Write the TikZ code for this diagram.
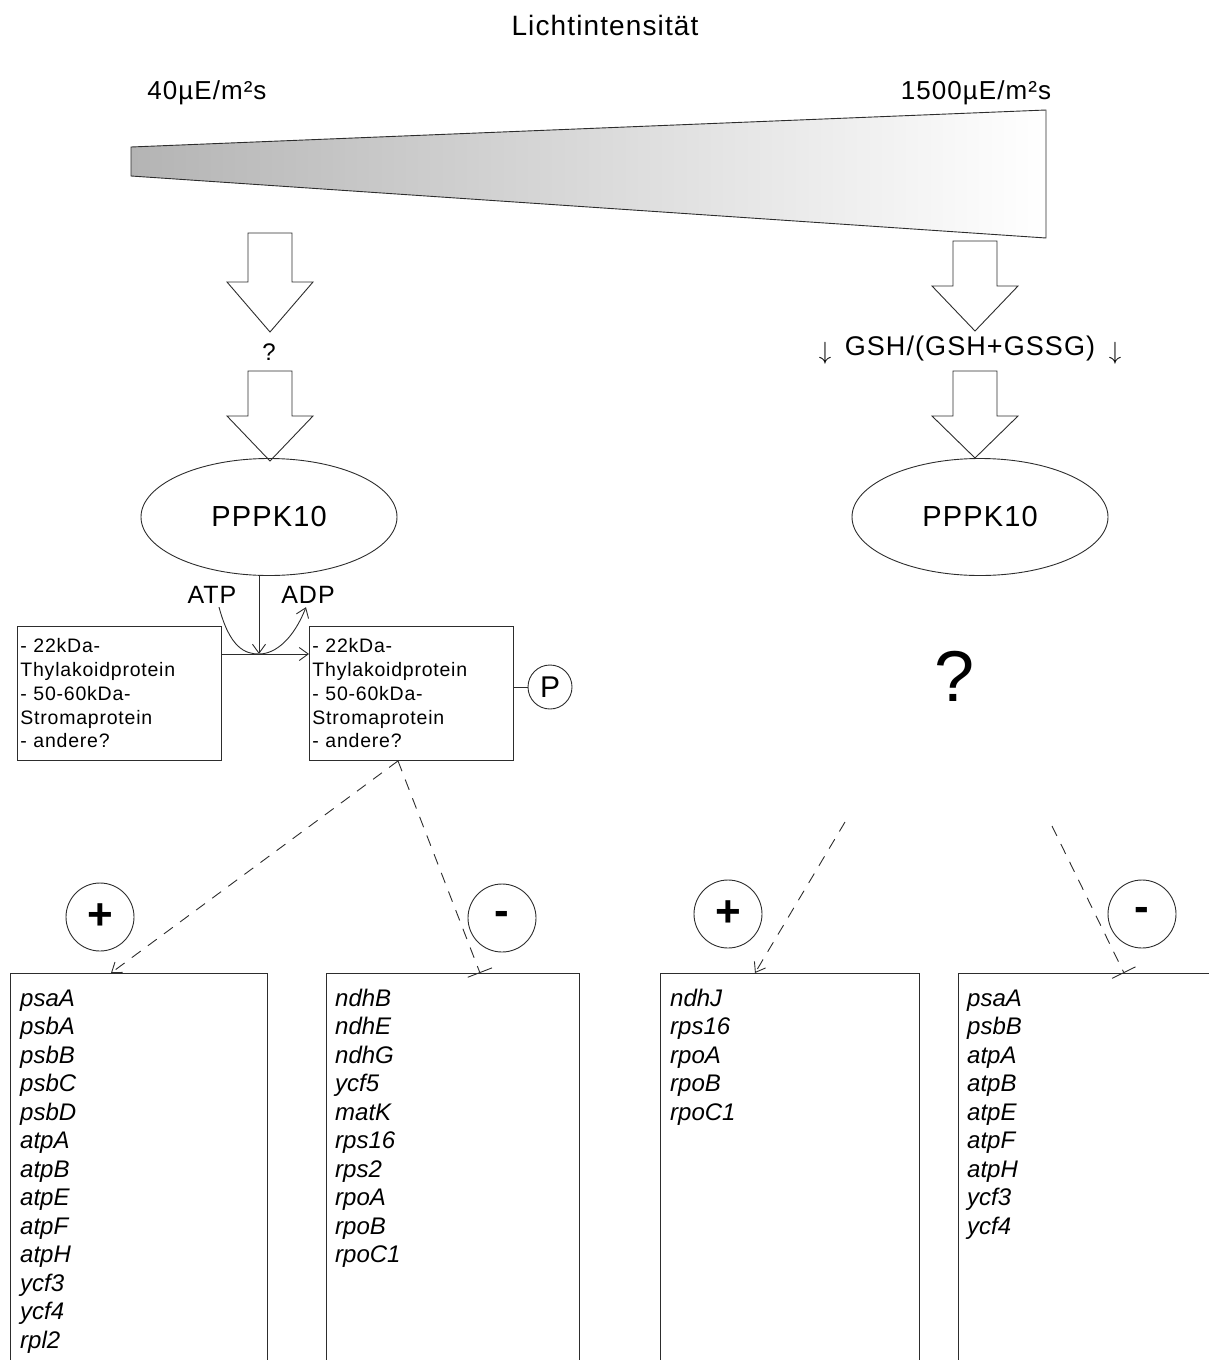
\documentclass[tikz,border=0pt]{standalone}
\usepackage{fontspec}
\setmainfont[LetterSpace=4]{Liberation Sans}
\newfontfamily\genefont{Liberation Sans}
\usepackage{tikz}
\usetikzlibrary{arrows.meta,positioning,shapes.geometric,calc}
\definecolor{wedgegray}{RGB}{180,180,180}
\definecolor{linegray}{RGB}{45,45,45}

\tikzset{
  conn/.style={draw=linegray, line width=0.9pt},
  barb/.style={-{Straight Barb[length=9pt,width=13pt]}},
  regline/.style={conn, dash pattern=on 11pt off 9pt},
  bigarrow/.style={conn, fill=white},
  kinase/.style={ellipse, conn, minimum width=256pt, minimum height=117pt,
    font=\fontsize{29}{34}\selectfont},
  protbox/.style={conn, anchor=north west, align=left, inner xsep=3pt,
    inner ysep=8pt, text width=198pt, minimum height=134pt,
    font=\fontsize{19.5}{23.75}\selectfont},
  genebox/.style={conn, anchor=north west, minimum height=450pt, inner sep=0pt},
  gene/.style={anchor=base west, inner sep=0pt,
    font=\genefont\itshape\fontsize{24}{28}\selectfont},
  effect/.style={circle, conn, minimum size=68pt, inner sep=0pt,
    font=\bfseries\fontsize{44}{44}\selectfont},
  label/.style={anchor=base, inner sep=0pt},
}

\begin{document}
\begin{tikzpicture}[x=1pt,y=-1pt]
    \useasboundingbox (0,0) rectangle (1209,1360);
    \clip (0,0) rectangle (1209,1360);
    % light intensity wedge
    \node[label, font=\fontsize{28}{32}\selectfont] (title) at (605,35) {Lichtintensität};
    \node[label, font=\fontsize{26}{30}\selectfont] (lowI) at (207,99) {40µE/m²s};
    \node[label, font=\fontsize{26}{30}\selectfont] (highI) at (976,99) {1500µE/m²s};
    \shade[left color=wedgegray, right color=white, draw=linegray, line width=0.9pt]
      (131,147) -- (1046,110) -- (1046,238) -- (131,176) -- cycle;
    % block arrows
    \foreach \x/\ya/\yb/\yc in {270/233/282/332, 270/371/416/461, 975/241/286/331, 975/371/416/458} {
      \draw[bigarrow] (\x-22,\ya) -- (\x+22,\ya) -- (\x+22,\yb) -- (\x+43,\yb)
        -- (\x,\yc) -- (\x-43,\yb) -- (\x-22,\yb) -- cycle;
    }
    \node[font=\fontsize{24}{24}\selectfont] (qL) at (269,352) {?};
    \node[label, font=\fontsize{27}{30}\selectfont] (gsh) at (970,355) {GSH/(GSH+GSSG)};
    \node[font=\fontsize{30}{30}\selectfont] (dnL) at (825,353) {$\downarrow$};
    \node[font=\fontsize{30}{30}\selectfont] (dnR) at (1115,353) {$\downarrow$};
    % kinase
    \node[kinase] (kinL) at (269,517) {PPPK10};
    \node[kinase] (kinR) at (980,517) {PPPK10};
    \node[font=\fontsize{72}{72}\selectfont] (qR) at (955,676) {?};
    % phosphorylation
    \node[protbox] (protA) at (17,626)
      {- 22kDa-\\Thylakoidprotein\\- 50-60kDa-\\Stromaprotein\\- andere?};
    \node[protbox] (protB) at (309,626)
      {- 22kDa-\\Thylakoidprotein\\- 50-60kDa-\\Stromaprotein\\- andere?};
    \node[circle, conn, minimum size=44pt, inner sep=0pt, font=\fontsize{30}{30}\selectfont]
      (phos) at (550,687) {P};
    \draw[conn] (protB.east |- phos) -- (phos.west);
    \node[font=\fontsize{25}{28}\selectfont] (atp) at (212,595) {ATP};
    \node[font=\fontsize{25}{28}\selectfont] (adp) at (308,595) {ADP};
    \coordinate (rxn) at (259,654);
    \draw[conn, barb] (kinL.south -| rxn) -- (rxn);
    \draw[conn, barb] (protA.east |- rxn) -- (protB.west |- rxn);
    \draw[conn, barb] ([xshift=7pt]atp.south) .. controls (230,648) and (245,654) .. (rxn)
      .. controls (276,654) and (294,638) .. ([xshift=-2pt]adp.south);
    % effects on transcripts
    \node[effect] (incA) at (100,917) {+};
    \node[effect] (decA) at (502,918) {-};
    \node[effect] (incB) at (728,914) {+};
    \node[effect] (decB) at (1142,914) {-};
    \node[genebox, minimum width=257pt] (listA) at (10,973) {};
    \node[genebox, minimum width=253pt] (listB) at (326,973) {};
    \node[genebox, minimum width=259pt] (listC) at (660,973) {};
    \node[genebox, minimum width=300pt] (listD) at (958,973) {};
    \foreach \lst/\x/\genes in {
        listA/20/{psaA,psbA,psbB,psbC,psbD,atpA,atpB,atpE,atpF,atpH,ycf3,ycf4,rpl2},
        listB/335/{ndhB,ndhE,ndhG,ycf5,matK,rps16,rps2,rpoA,rpoB,rpoC1},
        listC/670/{ndhJ,rps16,rpoA,rpoB,rpoC1},
        listD/967/{psaA,psbB,atpA,atpB,atpE,atpF,atpH,ycf3,ycf4}} {
      \foreach \g [count=\i] in \genes
        \node[gene] (\lst-\i) at (\x,{1006+28.5*(\i-1)}) {\g};
    }
    % regulation
    \coordinate (srcA) at ([xshift=89pt]protB.south west);
    \coordinate (srcC) at (845,822);
    \coordinate (srcD) at (1052,826);
    \coordinate (inA) at ([xshift=101pt]listA.north west);
    \coordinate (inB) at ([xshift=154pt]listB.north west);
    \coordinate (inC) at ([xshift=95pt]listC.north west);
    \coordinate (inD) at ([xshift=166pt]listD.north west);
    \draw[regline, barb] (srcA) -- (inA);
    \draw[regline, -{Bar[width=26pt]}] (srcA) -- (inB);
    \draw[regline, barb] (srcC) -- (inC);
    \draw[regline, -{Bar[width=26pt]}] (srcD) -- (inD);
\end{tikzpicture}
\end{document}
